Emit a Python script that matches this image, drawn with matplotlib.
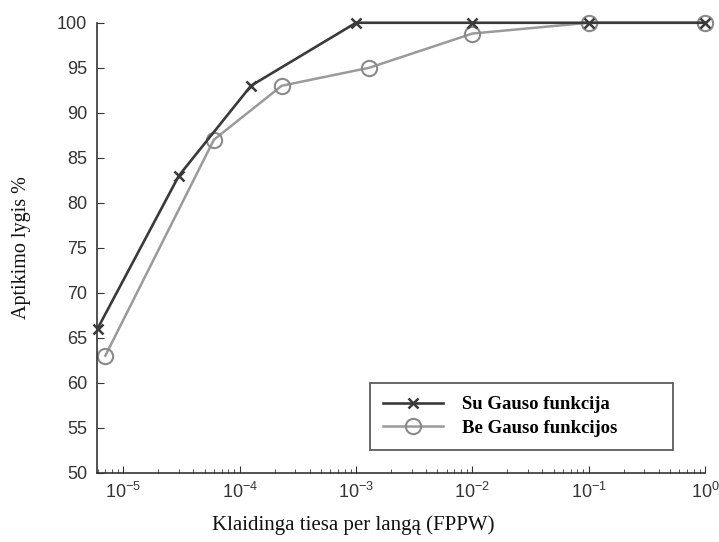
import matplotlib
matplotlib.use("Agg")
import matplotlib.pyplot as plt
from matplotlib.ticker import LogLocator

# Data
x_su = [6e-6, 3e-5, 1.25e-4, 1e-3, 1e-2, 1e-1, 1.0]
y_su = [66, 83, 93, 100, 100, 100, 100]
x_be = [7e-6, 6e-5, 2.3e-4, 1.3e-3, 1e-2, 1e-1, 1.0]
y_be = [63, 87, 93, 95, 98.8, 100, 100]
label_su = "Su Gauso funkcija"
label_be = "Be Gauso funkcijos"
y_ticks = [50, 55, 60, 65, 70, 75, 80, 85, 90, 95, 100]
xlabel = "Klaidinga tiesa per langą (FPPW)"
ylabel = "Aptikimo lygis %"

fig = plt.figure(figsize=(7.19, 5.42), dpi=100)
ax = fig.add_axes([0.1345, 0.128, 0.846, 0.830])

ax.plot(x_be, y_be, color="#9a9a9a", lw=1.8, marker="o", ms=11,
        mfc="none", mec="#8a8a8a", mew=1.5, label=label_be, zorder=2, clip_on=False)
ax.plot(x_su, y_su, color="#3a3a3a", lw=1.9, marker="x", ms=7,
        mew=1.8, label=label_su, zorder=3, clip_on=False)

ax.set_xscale("log")
ax.set_xlim(5.9e-6, 1.0)
ax.set_ylim(50, 100)
ax.set_yticks(y_ticks)
ax.xaxis.set_major_locator(LogLocator(base=10, numticks=10))
ax.xaxis.set_minor_locator(LogLocator(base=10, subs=range(2, 10), numticks=20))

for s in ["top", "right"]:
    ax.spines[s].set_visible(False)
for s in ["left", "bottom"]:
    ax.spines[s].set_color("#333333")
    ax.spines[s].set_linewidth(1.2)

ax.tick_params(axis="both", which="major", direction="in", length=5,
               color="#333333", labelsize=13, labelcolor="#333333", pad=7)
ax.tick_params(axis="x", which="minor", direction="in", length=3, color="#333333")
for lab in ax.get_xticklabels() + ax.get_yticklabels():
    lab.set_family("Liberation Sans")

ax.set_xlabel(xlabel, family="Liberation Serif", fontsize=15, color="#111111")
ax.xaxis.set_label_coords(0.421, -0.095)
ax.set_ylabel(ylabel, family="Liberation Serif", fontsize=14.5, color="#111111")
ax.yaxis.set_label_coords(-0.108, 0.5)

leg = ax.legend(handles=[ax.lines[1], ax.lines[0]], labels=[label_su, label_be],
                loc="lower left", bbox_to_anchor=(0.449, 0.05, 0.498, 0.145),
                mode="expand", frameon=True, fancybox=False, borderaxespad=0,
                prop={"family": "Liberation Serif", "weight": "bold", "size": 13.5},
                handlelength=3.2, labelspacing=0.35, borderpad=0.7, handletextpad=1.0)
leg.get_frame().set_edgecolor("#333333")
leg.get_frame().set_linewidth(1.3)

fig.savefig("out.png", dpi=100)
